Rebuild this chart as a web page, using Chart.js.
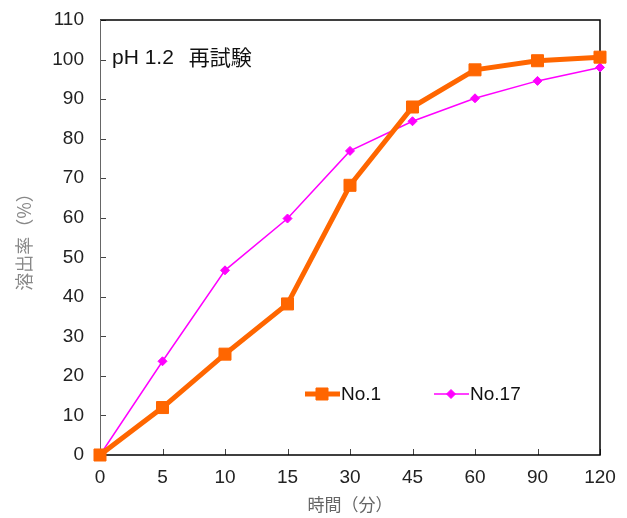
<!DOCTYPE html>
<html>
<head>
<meta charset="utf-8">
<script src="https://cdn.jsdelivr.net/npm/chart.js@4"></script>
<style>
    body { margin: 0; background: #fff; }
    #wrap { width: 627px; height: 518px; }
</style>
</head>
<body>
<div id="wrap"><canvas id="dissolution" width="627" height="518"></canvas></div>
<script>
// time points (min), shown as equally spaced categories
const timeLabels = ['0', '5', '10', '15', '30', '45', '60', '90', '120'];
// dissolution rate (%)
const no1 = [0, 12.0, 25.5, 38.2, 68.2, 88.0, 97.4, 99.7, 100.6];
const no17 = [0, 23.7, 46.7, 59.8, 76.9, 84.4, 90.2, 94.6, 98.0];
const seriesNames = ['No.1', 'No.17'];
const titleParts = ['pH 1.2', '再試験'];
const yMax = 110;
const yStep = 10;

const FONT = '"Liberation Sans", Arial, "Noto Sans CJK JP", sans-serif';
const CJK = '"Noto Sans CJK JP", "Liberation Sans", sans-serif';

// box round the plot, ticks pointing inward
const frameTicks = {
    id: 'frameTicks',
    beforeDatasetsDraw(chart) {
        const {ctx, chartArea: a, scales: {x, y}} = chart;
        ctx.save();
        ctx.strokeStyle = '#444';
        ctx.lineWidth = 1;
        ctx.beginPath();
        y.ticks.forEach((t, i) => {
            const py = Math.round(y.getPixelForTick(i)) + 0.5;
            ctx.moveTo(a.left, py);
            ctx.lineTo(a.left + 6, py);
        });
        x.ticks.forEach((t, i) => {
            const px = Math.round(x.getPixelForTick(i)) + 0.5;
            ctx.moveTo(px, a.bottom);
            ctx.lineTo(px, a.bottom - 6);
        });
        ctx.stroke();

        ctx.strokeStyle = '#000';
        ctx.lineWidth = 1.5;
        ctx.beginPath();
        ctx.moveTo(a.left, a.top);
        ctx.lineTo(a.right, a.top);
        ctx.lineTo(a.right, a.bottom);
        ctx.lineTo(a.left, a.bottom);
        ctx.stroke();
        ctx.strokeStyle = '#666';
        ctx.lineWidth = 1;
        ctx.beginPath();
        ctx.moveTo(a.left + 0.5, a.top);
        ctx.lineTo(a.left + 0.5, a.bottom);
        ctx.stroke();
        ctx.restore();
    }
};

// title and legend sit inside the plot
const insideText = {
    id: 'insideText',
    afterDraw(chart) {
        const {ctx, chartArea: a} = chart;
        ctx.save();
        ctx.fillStyle = '#111';
        ctx.textBaseline = 'middle';
        ctx.font = '21px ' + FONT;
        ctx.fillText(titleParts[0], a.left + 12, a.top + 38);
        const w = ctx.measureText(titleParts[0]).width;
        ctx.font = '21px ' + CJK;
        ctx.fillText(titleParts[1], a.left + 12 + w + 15, a.top + 37);

        const items = [{x: a.left + 205}, {x: a.left + 334}];
        chart.data.datasets.forEach((ds, i) => {
            const x0 = items[i].x, y0 = a.top + 374;
            ctx.strokeStyle = ds.borderColor;
            ctx.fillStyle = ds.backgroundColor;
            ctx.lineWidth = ds.borderWidth;
            ctx.beginPath();
            ctx.moveTo(x0, y0);
            ctx.lineTo(x0 + 35, y0);
            ctx.stroke();
            ctx.lineWidth = 1;
            Chart.helpers.drawPoint(ctx, {
                pointStyle: ds.pointStyle,
                radius: ds.pointRadius,
                borderWidth: 1
            }, x0 + 17, y0);
            ctx.fillStyle = '#111';
            ctx.font = '19px ' + FONT;
            ctx.fillText(ds.label, x0 + 36, y0 + 1);
        });
        ctx.restore();
    }
};

const ctx = document.getElementById('dissolution');
const dissolutionChart = new Chart(ctx, {
    type: 'line',
    data: {
        labels: timeLabels,
        datasets: [{
            label: seriesNames[0],
            data: no1,
            borderColor: '#FF6600',
            backgroundColor: '#FF6600',
            borderWidth: 5,
            pointStyle: 'rect',
            pointRadius: 8.5,
            pointBorderWidth: 1,
            tension: 0,
            clip: false
        },
        {
            label: seriesNames[1],
            data: no17,
            borderColor: '#FF00FF',
            backgroundColor: '#FF00FF',
            borderWidth: 1.5,
            pointStyle: 'rectRot',
            pointRadius: 4.5,
            pointBorderWidth: 1,
            tension: 0,
            clip: false
        }]
    },
    options: {
        responsive: false,
        animation: false,
        layout: { padding: { left: 0, right: 27, top: 20, bottom: 0 } },
        plugins: {
            legend: { display: false },
            tooltip: { enabled: false }
        },
        scales: {
            x: {
                offset: false,
                grid: { display: false, drawTicks: false },
                border: { display: false },
                ticks: {
                    color: '#222',
                    font: { family: FONT, size: 19 },
                    padding: 11,
                    maxRotation: 0,
                    autoSkip: false
                },
                title: {
                    display: true,
                    text: '時間（分）',
                    color: '#666',
                    font: { family: CJK, size: 17 },
                    padding: { top: 0, bottom: 3 }
                },
                afterFit(scale) { scale.height = 63; }
            },
            y: {
                min: 0,
                max: yMax,
                grid: { display: false, drawTicks: false },
                border: { display: false },
                ticks: {
                    stepSize: yStep,
                    color: '#222',
                    font: { family: FONT, size: 19 },
                    padding: 16
                },
                title: {
                    display: true,
                    text: '溶出率（%）',
                    color: '#888',
                    font: { family: CJK, size: 18 },
                    padding: { top: 13, bottom: 0 }
                },
                afterFit(scale) {
                    scale.width = 100;
                    scale.paddingTop = 0;
                }
            }
        }
    },
    plugins: [frameTicks, insideText]
});
</script>
</body>
</html>
